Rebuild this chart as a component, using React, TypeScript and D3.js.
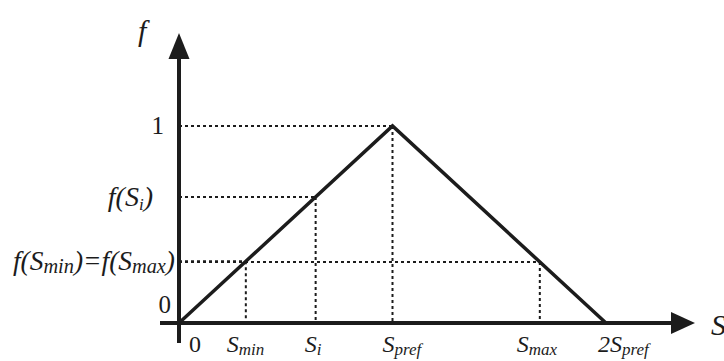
import React from "react";
import * as d3 from "d3";

// Triangular preference function (S in units of S_pref)
const curveS = [0, 1, 2];
const curveF = [0, 1, 0];

// Marked points (S, f(S)) with guide lines
const markS = [0.313, 0.64, 1, 1.69];
const markF = [0.313, 0.64, 1, 0.31];

// Tick labels on the S axis
const xTickVals = [0, 0.313, 0.64, 1, 1.69, 2];
const xTickBase = ["0", "S", "S", "S", "S", "2S"];
const xTickSub = ["", "min", "i", "pref", "max", "pref"];

// Tick labels on the f axis
const yTickVals = [0, 0.313, 0.64, 1];
const yTickLabels = ["0", "f(Smin)=f(Smax)", "f(Si)", "1"];

const W = 724;
const H = 361;

export default function App() {
  const x = d3.scaleLinear().domain([0, 2]).range([179, 606]);
  const y = d3.scaleLinear().domain([0, 1]).range([323, 126]);
  const line = d3
    .line<number>()
    .x((d) => x(d))
    .y((_, i) => y(curveF[i]));

  const ink = "#1c1c1c";
  const serif = "'Liberation Serif', 'Times New Roman', serif";
  const xDx = [10, -19, -11, -10, -23, -8];

  const yLabel = (lab: string, i: number) => {
    const yy = y(yTickVals[i]) + 9;
    if (lab === "f(Si)") {
      return (
        <text key={i} x={153} y={yy} textAnchor="end" fontStyle="italic" fontFamily={serif} fontSize={28} fill={ink}>
          <tspan>f(S</tspan>
          <tspan fontSize={17} dy={4}>i</tspan>
          <tspan dy={-4}>)</tspan>
        </text>
      );
    }
    if (lab === "f(Smin)=f(Smax)") {
      return (
        <text key={i} x={13} y={yy} textAnchor="start" fontStyle="italic" fontFamily={serif} fontSize={27} fill={ink} textLength={162} lengthAdjust="spacingAndGlyphs">
          <tspan>f(S</tspan>
          <tspan fontSize={20} dy={3}>min</tspan>
          <tspan dy={-3}>)=f(S</tspan>
          <tspan fontSize={20} dy={3}>max</tspan>
          <tspan dy={-3}>)</tspan>
        </text>
      );
    }
    return (
      <text key={i} x={lab === "0" ? 171 : 164} y={lab === "0" ? 313 : yy - 1} textAnchor="end" fontFamily={serif} fontSize={25} fill={ink}>
        {lab}
      </text>
    );
  };

  return (
    <svg width={W} height={H} style={{ position: "absolute", left: 0, top: 0, background: "#fff" }}>
      <rect width={W} height={H} fill="#fff" />
      {/* dotted guide lines */}
      {markS.map((s, i) => (
        <g key={i} stroke={ink} strokeWidth={2} strokeDasharray="3,3" fill="none">
          <line x1={x(0)} x2={x(s)} y1={y(markF[i])} y2={y(markF[i])} />
          <line x1={x(s)} x2={x(s)} y1={y(markF[i])} y2={y(0)} />
        </g>
      ))}
      {/* triangle */}
      <path d={line(curveS) || ""} fill="none" stroke={ink} strokeWidth={3.5} strokeLinejoin="miter" />
      {/* axes */}
      <line x1={160} x2={676} y1={y(0)} y2={y(0)} stroke={ink} strokeWidth={4} />
      <line x1={x(0)} x2={x(0)} y1={343} y2={55} stroke={ink} strokeWidth={4} />
      <path d={`M${x(0)},33 L${x(0) - 10.5},59 L${x(0) + 10.5},59 Z`} fill={ink} />
      <path d={`M695,${y(0)} L671,${y(0) - 11} L671,${y(0) + 11} Z`} fill={ink} />
      {/* axis names */}
      <text x={138} y={41} fontStyle="italic" fontFamily={serif} fontSize={30} fill={ink}>f</text>
      <text x={711} y={335} fontStyle="italic" fontFamily={serif} fontSize={30} fill={ink}>S</text>
      {/* y tick labels */}
      {yTickLabels.map((lab, i) => yLabel(lab, i))}
      {/* x tick labels */}
      {xTickVals.map((v, i) => (
        <text
          key={i}
          x={x(v) + xDx[i]}
          y={352}
          fontStyle={i === 0 ? "normal" : "italic"}
          fontFamily={serif}
          fill={ink}
        >
          <tspan fontSize={24}>{xTickBase[i]}</tspan>
          {xTickSub[i] ? (
            <tspan fontSize={17} dy={3}>
              {xTickSub[i]}
            </tspan>
          ) : null}
        </text>
      ))}
    </svg>
  );
}
